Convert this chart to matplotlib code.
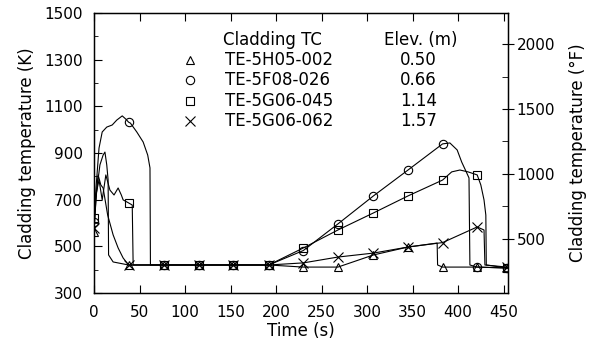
import matplotlib
matplotlib.use('Agg')
import matplotlib.pyplot as plt
import numpy as np

# times where the symbols sit on the traces (s)
marker_times = [0, 38, 77, 115, 153, 192, 230, 268, 307, 345, 383, 421, 454]

# TE-5H05-002 (0.50 m)
t_tri = [0, 2, 4.5, 7.5, 10, 15, 21, 26.5, 32, 38, 77, 115, 153, 192, 230, 268,
         307, 345, 377, 377.5, 383, 421, 454]
T_tri = [561, 699, 806, 763, 750, 634, 549, 493, 450, 420, 420, 420, 420, 420, 411, 411,
         463, 497, 514, 420, 411, 411, 407]

# TE-5F08-026 (0.66 m)
t_circ = [0, 2, 5.5, 9, 14, 20, 25, 31, 35, 38, 40, 47, 54, 59, 61.5, 62, 77, 115, 153,
          192, 230, 268, 307, 345, 383, 391, 399, 404, 409, 412, 413, 421, 454]
T_circ = [604, 741, 921, 990, 1011, 1020, 1041, 1059, 1045, 1032, 1028, 990, 947, 891, 836,
          420, 420, 420, 420, 420, 482, 596, 716, 827, 939, 943, 913, 861, 819, 793, 420,
          411, 407]

# TE-5G06-045 (1.14 m)
t_sq = [0, 2, 5.5, 9, 13, 17.5, 22, 26.5, 30, 32, 38, 42, 43, 77, 115, 153, 192, 230, 268,
        307, 345, 383, 393, 402, 411, 421, 425, 428.5, 430.5, 431, 454]
T_sq = [621, 720, 784, 699, 806, 741, 720, 750, 720, 699, 686, 677, 420, 420, 420, 420, 420,
        493, 570, 643, 716, 784, 819, 827, 819, 806, 763, 699, 634, 420, 407]

# TE-5G06-062 (1.57 m)
t_x = [0, 3, 6.5, 10, 12, 14, 15.5, 16, 21, 38, 77, 115, 153, 192, 230, 268, 307, 345,
       383, 421, 428.5, 429.5, 454]
T_x = [578, 741, 849, 891, 904, 849, 784, 463, 433, 420, 420, 420, 420, 420, 429, 454, 471,
       497, 516, 583, 570, 420, 411]

tc_names = ['TE-5H05-002', 'TE-5F08-026', 'TE-5G06-045', 'TE-5G06-062']
elevations = ['0.50', '0.66', '1.14', '1.57']
symbols = ['^', 'o', 's', 'x']

series = [(t_tri, T_tri), (t_circ, T_circ), (t_sq, T_sq), (t_x, T_x)]

plt.rcParams['font.family'] = 'DejaVu Sans'

fig = plt.figure(figsize=(5.95, 3.49), dpi=100)
ax = fig.add_axes([0.158, 0.1605, 0.696, 0.8023])

for (t, T), sym in zip(series, symbols):
    idx = [i for i, v in enumerate(t) if v in marker_times]
    ax.plot(t, T, color='black', lw=0.8, marker=sym, markevery=idx,
            markersize=6 if sym != 'x' else 7, markerfacecolor='none',
            markeredgecolor='black', markeredgewidth=0.8)

ax.set_xlim(0, 455)
ax.set_ylim(300, 1500)
ax.set_xticks(np.arange(0, 451, 50))
ax.set_yticks(np.arange(300, 1501, 200))
ax.set_yticks(np.arange(400, 1500, 200), minor=True)
ax.tick_params(axis='both', which='both', direction='in', labelsize=11,
               top=True, colors='black')
ax.tick_params(axis='both', which='major', length=6)
ax.tick_params(axis='both', which='minor', length=3)
ax.tick_params(axis='x', top=True, labeltop=False, pad=9)
ax.tick_params(axis='y', pad=8)
ax.set_xlabel('Time (s)', fontsize=12, labelpad=1)
ax.set_ylabel('Cladding temperature (K)', fontsize=12, labelpad=6)

# right axis in Fahrenheit
ax2 = ax.twinx()
k2f = lambda k: (k - 273.15) * 1.8 + 32
ax2.set_ylim(k2f(300), k2f(1500))
ax2.set_yticks([500, 1000, 1500, 2000])
ax2.set_yticks([250, 750, 1250, 1750], minor=True)
ax2.tick_params(axis='y', which='major', direction='inout', length=8, labelsize=11, pad=2)
ax2.tick_params(axis='y', which='minor', direction='in', length=4)
ax2.set_ylabel('Cladding temperature (\u00b0F)', fontsize=12, labelpad=10)

for sp in ax.spines.values():
    sp.set_linewidth(1.0)

# legend as a text table
ax.text(0.312, 0.904, 'Cladding TC', transform=ax.transAxes, fontsize=12,
        ha='left', va='center')
ax.text(0.79, 0.904, 'Elev. (m)', transform=ax.transAxes, fontsize=12,
        ha='center', va='center')
rows_y = [0.832, 0.761, 0.686, 0.614]
for y, name, elev, sym in zip(rows_y, tc_names, elevations, symbols):
    ax.plot([0.232], [y], transform=ax.transAxes, marker=sym, linestyle='none',
            markersize=6 if sym != 'x' else 7, markerfacecolor='none',
            markeredgecolor='black', markeredgewidth=0.8)
    ax.text(0.316, y, name, transform=ax.transAxes, fontsize=12, ha='left', va='center')
    ax.text(0.783, y, elev, transform=ax.transAxes, fontsize=12, ha='center', va='center')

fig.savefig('out.png', dpi=100)
